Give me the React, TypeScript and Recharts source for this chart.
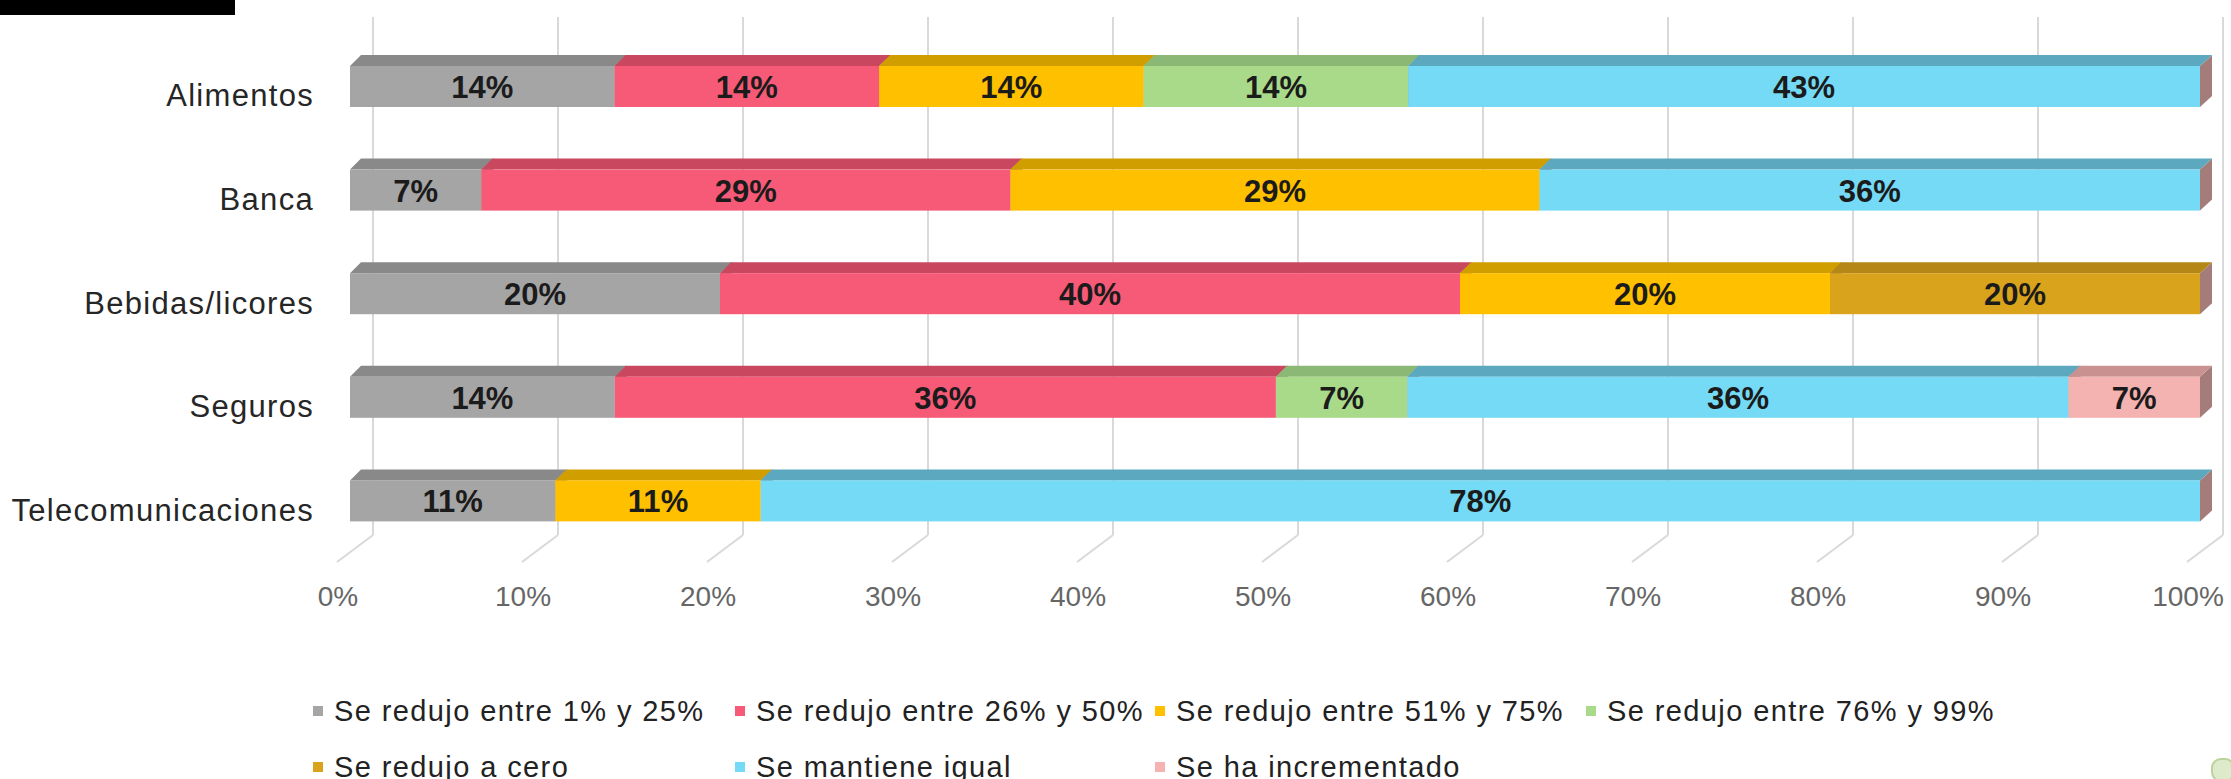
import { BarChart, Bar, XAxis, YAxis, CartesianGrid, Legend, LabelList } from "recharts";

const categories = ["Alimentos", "Banca", "Bebidas/licores", "Seguros", "Telecomunicaciones"];

const seriesNames = [
  "Se redujo entre 1% y 25%",
  "Se redujo entre 26% y 50%",
  "Se redujo entre 51% y 75%",
  "Se redujo entre 76% y 99%",
  "Se redujo a cero",
  "Se mantiene igual",
  "Se ha incrementado",
];

// percentages per category, same order as categories
const redujo1a25 = [14.3, 7.1, 20, 14.3, 11.1];
const redujo26a50 = [14.3, 28.6, 40, 35.7, 0];
const redujo51a75 = [14.3, 28.6, 20, 0, 11.1];
const redujo76a99 = [14.3, 0, 0, 7.1, 0];
const redujoCero = [0, 0, 20, 0, 0];
const mantieneIgual = [42.8, 35.7, 0, 35.7, 77.8];
const incrementado = [0, 0, 0, 7.1, 0];

const xTicks = [0, 0.1, 0.2, 0.3, 0.4, 0.5, 0.6, 0.7, 0.8, 0.9, 1];

const frontColors = ["#A5A5A5", "#F75A77", "#FFC000", "#A9DA8A", "#D9A41C", "#74DAF6", "#F4B2B0"];
const topColors = ["#898989", "#C9475F", "#D19E00", "#8BB874", "#B48716", "#5CA8BE", "#C99290"];
const SIDE = "#A47D7A";
const FONT = "'Liberation Sans', Arial, sans-serif";
const D = 11;

const seriesValues = [redujo1a25, redujo26a50, redujo51a75, redujo76a99, redujoCero, mantieneIgual, incrementado];
const keys = seriesValues.map((_, i) => `s${i}`);

const data = categories.map((name, i) => {
  const row: Record<string, string | number> = { name };
  seriesValues.forEach((vals, j) => {
    row[keys[j]] = vals[i];
  });
  return row;
});

function makeShape(front: string, top: string) {
  return (props: any) => {
    const { x, y, width, height } = props;
    if (!width || width <= 0.5) return <g />;
    const r = x + width;
    return (
      <g>
        <polygon points={`${r},${y} ${r + D + 1},${y - D} ${r + D + 1},${y + height - D} ${r},${y + height}`} fill={SIDE} />
        <polygon points={`${x},${y} ${x + D},${y - D} ${r + D + 1},${y - D} ${r},${y}`} fill={top} />
        <rect x={x} y={y} width={width} height={height} fill={front} />
      </g>
    );
  };
}

function renderLabel(props: any) {
  const { x, y, width, height, value } = props;
  if (!value || width <= 0) return null;
  return (
    <text
      x={x + width / 2}
      y={y + height / 2 + 1}
      textAnchor="middle"
      dominantBaseline="central"
      fontFamily={FONT}
      fontWeight="bold"
      fontSize={31}
      fill="#1b1b1b"
    >
      {Math.round(value)}%
    </text>
  );
}

function CategoryTick(props: any) {
  const { y, payload } = props;
  return (
    <text x={314} y={y + 9} textAnchor="end" dominantBaseline="central" fontFamily={FONT} fontSize={31} letterSpacing={1.3} fill="#262626">
      {payload.value}
    </text>
  );
}

function PercentTick(props: any) {
  const { x, payload } = props;
  return (
    <g>
      <line x1={x + 23} y1={535} x2={x - 13} y2={562} stroke="#D9D9D9" strokeWidth={2} />
      <text x={x - 12} y={596} textAnchor="middle" dominantBaseline="central" fontFamily={FONT} fontSize={28} fill="#666666">
        {Math.round(payload.value * 100)}%
      </text>
    </g>
  );
}

function GridLine(props: any) {
  const { x1 } = props;
  return <line x1={x1 + 23} y1={17} x2={x1 + 23} y2={535} stroke="#D9D9D9" strokeWidth={2} />;
}

const legendCols = [313, 735, 1155, 1586];
const legendRows = [42, 98];

function LegendContent() {
  return (
    <div style={{ position: "relative", width: 2231, height: 110, fontFamily: FONT }}>
      {seriesNames.map((n, i) => {
        const row = i < 4 ? 0 : 1;
        const col = i < 4 ? i : i - 4;
        const cx = legendCols[col];
        const cy = legendRows[row];
        return (
          <div key={n}>
            <div style={{ position: "absolute", left: cx, top: cy - 5, width: 10, height: 10, background: frontColors[i] }} />
            <span
              style={{
                position: "absolute",
                left: cx + 21,
                top: cy - 17,
                lineHeight: "34px",
                fontSize: 29,
                letterSpacing: 1.4,
                color: "#222",
                whiteSpace: "nowrap",
              }}
            >
              {n}
            </span>
          </div>
        );
      })}
    </div>
  );
}

export default function App() {
  return (
    <div style={{ position: "absolute", left: 0, top: 0, width: 2231, height: 779, background: "#fff", overflow: "hidden" }}>
      <div style={{ position: "absolute", left: 0, top: 0, width: 235, height: 15, background: "#000" }} />
      <BarChart
        width={2231}
        height={779}
        data={data}
        layout="vertical"
        stackOffset="expand"
        margin={{ top: 35, right: 31, bottom: 0, left: 0 }}
      >
        <CartesianGrid horizontal={false} vertical={GridLine} />
        <XAxis
          type="number"
          domain={[0, 1]}
          ticks={xTicks}
          interval={0}
          height={116}
          axisLine={false}
          tickLine={false}
          tick={PercentTick}
        />
        <YAxis type="category" dataKey="name" width={350} axisLine={false} tickLine={false} tick={CategoryTick} />
        <Legend
          verticalAlign="bottom"
          content={LegendContent}
          wrapperStyle={{ position: "absolute", left: 0, top: 669, width: 2231, height: 110 }}
        />
        {keys.map((k, i) => (
          <Bar
            key={k}
            dataKey={k}
            name={seriesNames[i]}
            stackId="a"
            barSize={41}
            fill={frontColors[i]}
            shape={makeShape(frontColors[i], topColors[i])}
            isAnimationActive={false}
          >
            <LabelList dataKey={k} content={renderLabel} />
          </Bar>
        ))}
      </BarChart>
      <div
        style={{
          position: "absolute",
          left: 2211,
          top: 758,
          width: 20,
          height: 20,
          borderRadius: 10,
          background: "#DDEBCB",
          border: "2px solid #B9D39A",
        }}
      />
    </div>
  );
}
